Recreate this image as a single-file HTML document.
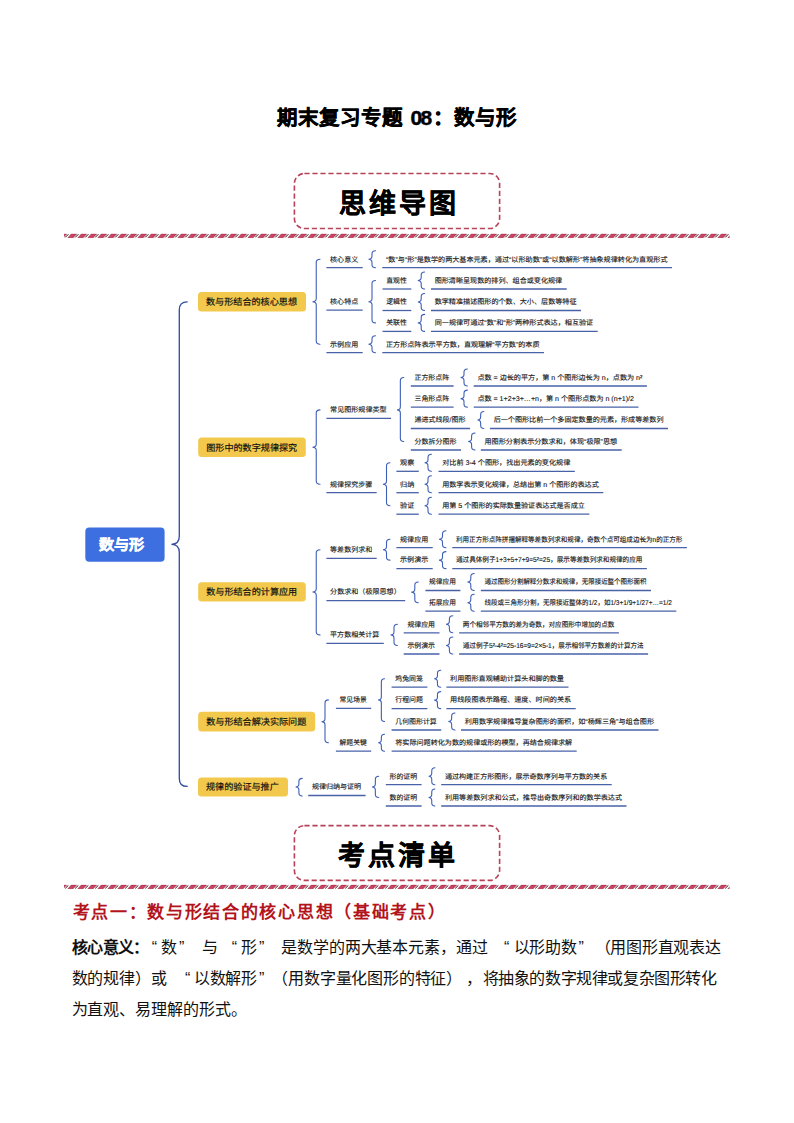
<!DOCTYPE html>
<html lang="zh-CN"><head><meta charset="utf-8">
<style>
html,body{margin:0;padding:0;background:#fff;}
body{text-spacing-trim:space-all;width:794px;height:1123px;position:relative;overflow:hidden;font-family:"Liberation Sans",sans-serif;color:#111;}
.abs{position:absolute;white-space:nowrap;}
.tt{top:105.3px;font-size:20.5px;font-weight:bold;-webkit-text-stroke:0.45px #000;color:#000;letter-spacing:1.1px;line-height:26px;}
.bigt{font-family:"Liberation Serif",serif;font-weight:bold;-webkit-text-stroke:0.35px #000;color:#000;font-size:27px;letter-spacing:3.1px;}
.h1{top:898px;font-family:"Liberation Serif",serif;font-weight:bold;font-size:17px;color:#b3141c;}
.bs{position:absolute;white-space:nowrap;font-family:"Liberation Sans",sans-serif;font-size:16px;line-height:23px;color:#111;}
.bl{position:absolute;left:73px;font-family:"Liberation Serif",serif;font-size:16px;text-align:justify;text-align-last:justify;white-space:nowrap;}
svg text{text-rendering:geometricPrecision;font-family:"Liberation Sans",sans-serif;fill:#111;stroke:#111;stroke-width:0.12px;}
svg text.bt{stroke-width:0.18px;}
</style></head><body>
<svg class="abs" style="left:0;top:0" width="794" height="1123" viewBox="0 0 794 1123">
<defs>
<pattern id="stp" patternUnits="userSpaceOnUse" x="64" y="0" width="10.1" height="3.8">
<polygon points="2.3,3.8 8.6,3.8 10.1,0 3.8,0" fill="#c63d5b"/>
<line x1="0.3" y1="3.8" x2="1.8" y2="0" stroke="#4a2228" stroke-width="0.7" stroke-dasharray="0.7 0.5"/>
</pattern>
</defs>
<rect x="294.4" y="173.5" width="205.20000000000005" height="55.0" rx="10" fill="none" stroke="#b8425a" stroke-width="1.6" stroke-dasharray="5.2 2.8"/>
<clipPath id="cp233"><rect x="64" y="233.4" width="665.5" height="4.8"/></clipPath><g clip-path="url(#cp233)"><polygon points="57.90,237.70 63.20,237.70 66.60,233.90 61.30,233.90" fill="#cc4262" stroke="#8e1f3a" stroke-width="0.5"/><line x1="55.20" y1="237.40" x2="58.40" y2="234.20" stroke="#2a0a10" stroke-width="1.0"/><polygon points="67.90,237.70 73.20,237.70 76.60,233.90 71.30,233.90" fill="#cc4262" stroke="#8e1f3a" stroke-width="0.5"/><line x1="65.20" y1="237.40" x2="68.40" y2="234.20" stroke="#2a0a10" stroke-width="1.0"/><polygon points="77.90,237.70 83.20,237.70 86.60,233.90 81.30,233.90" fill="#cc4262" stroke="#8e1f3a" stroke-width="0.5"/><line x1="75.20" y1="237.40" x2="78.40" y2="234.20" stroke="#2a0a10" stroke-width="1.0"/><polygon points="87.90,237.70 93.20,237.70 96.60,233.90 91.30,233.90" fill="#cc4262" stroke="#8e1f3a" stroke-width="0.5"/><line x1="85.20" y1="237.40" x2="88.40" y2="234.20" stroke="#2a0a10" stroke-width="1.0"/><polygon points="97.90,237.70 103.20,237.70 106.60,233.90 101.30,233.90" fill="#cc4262" stroke="#8e1f3a" stroke-width="0.5"/><line x1="95.20" y1="237.40" x2="98.40" y2="234.20" stroke="#2a0a10" stroke-width="1.0"/><polygon points="107.90,237.70 113.20,237.70 116.60,233.90 111.30,233.90" fill="#cc4262" stroke="#8e1f3a" stroke-width="0.5"/><line x1="105.20" y1="237.40" x2="108.40" y2="234.20" stroke="#2a0a10" stroke-width="1.0"/><polygon points="117.90,237.70 123.20,237.70 126.60,233.90 121.30,233.90" fill="#cc4262" stroke="#8e1f3a" stroke-width="0.5"/><line x1="115.20" y1="237.40" x2="118.40" y2="234.20" stroke="#2a0a10" stroke-width="1.0"/><polygon points="127.90,237.70 133.20,237.70 136.60,233.90 131.30,233.90" fill="#cc4262" stroke="#8e1f3a" stroke-width="0.5"/><line x1="125.20" y1="237.40" x2="128.40" y2="234.20" stroke="#2a0a10" stroke-width="1.0"/><polygon points="137.90,237.70 143.20,237.70 146.60,233.90 141.30,233.90" fill="#cc4262" stroke="#8e1f3a" stroke-width="0.5"/><line x1="135.20" y1="237.40" x2="138.40" y2="234.20" stroke="#2a0a10" stroke-width="1.0"/><polygon points="147.90,237.70 153.20,237.70 156.60,233.90 151.30,233.90" fill="#cc4262" stroke="#8e1f3a" stroke-width="0.5"/><line x1="145.20" y1="237.40" x2="148.40" y2="234.20" stroke="#2a0a10" stroke-width="1.0"/><polygon points="157.90,237.70 163.20,237.70 166.60,233.90 161.30,233.90" fill="#cc4262" stroke="#8e1f3a" stroke-width="0.5"/><line x1="155.20" y1="237.40" x2="158.40" y2="234.20" stroke="#2a0a10" stroke-width="1.0"/><polygon points="167.90,237.70 173.20,237.70 176.60,233.90 171.30,233.90" fill="#cc4262" stroke="#8e1f3a" stroke-width="0.5"/><line x1="165.20" y1="237.40" x2="168.40" y2="234.20" stroke="#2a0a10" stroke-width="1.0"/><polygon points="177.90,237.70 183.20,237.70 186.60,233.90 181.30,233.90" fill="#cc4262" stroke="#8e1f3a" stroke-width="0.5"/><line x1="175.20" y1="237.40" x2="178.40" y2="234.20" stroke="#2a0a10" stroke-width="1.0"/><polygon points="187.90,237.70 193.20,237.70 196.60,233.90 191.30,233.90" fill="#cc4262" stroke="#8e1f3a" stroke-width="0.5"/><line x1="185.20" y1="237.40" x2="188.40" y2="234.20" stroke="#2a0a10" stroke-width="1.0"/><polygon points="197.90,237.70 203.20,237.70 206.60,233.90 201.30,233.90" fill="#cc4262" stroke="#8e1f3a" stroke-width="0.5"/><line x1="195.20" y1="237.40" x2="198.40" y2="234.20" stroke="#2a0a10" stroke-width="1.0"/><polygon points="207.90,237.70 213.20,237.70 216.60,233.90 211.30,233.90" fill="#cc4262" stroke="#8e1f3a" stroke-width="0.5"/><line x1="205.20" y1="237.40" x2="208.40" y2="234.20" stroke="#2a0a10" stroke-width="1.0"/><polygon points="217.90,237.70 223.20,237.70 226.60,233.90 221.30,233.90" fill="#cc4262" stroke="#8e1f3a" stroke-width="0.5"/><line x1="215.20" y1="237.40" x2="218.40" y2="234.20" stroke="#2a0a10" stroke-width="1.0"/><polygon points="227.90,237.70 233.20,237.70 236.60,233.90 231.30,233.90" fill="#cc4262" stroke="#8e1f3a" stroke-width="0.5"/><line x1="225.20" y1="237.40" x2="228.40" y2="234.20" stroke="#2a0a10" stroke-width="1.0"/><polygon points="237.90,237.70 243.20,237.70 246.60,233.90 241.30,233.90" fill="#cc4262" stroke="#8e1f3a" stroke-width="0.5"/><line x1="235.20" y1="237.40" x2="238.40" y2="234.20" stroke="#2a0a10" stroke-width="1.0"/><polygon points="247.90,237.70 253.20,237.70 256.60,233.90 251.30,233.90" fill="#cc4262" stroke="#8e1f3a" stroke-width="0.5"/><line x1="245.20" y1="237.40" x2="248.40" y2="234.20" stroke="#2a0a10" stroke-width="1.0"/><polygon points="257.90,237.70 263.20,237.70 266.60,233.90 261.30,233.90" fill="#cc4262" stroke="#8e1f3a" stroke-width="0.5"/><line x1="255.20" y1="237.40" x2="258.40" y2="234.20" stroke="#2a0a10" stroke-width="1.0"/><polygon points="267.90,237.70 273.20,237.70 276.60,233.90 271.30,233.90" fill="#cc4262" stroke="#8e1f3a" stroke-width="0.5"/><line x1="265.20" y1="237.40" x2="268.40" y2="234.20" stroke="#2a0a10" stroke-width="1.0"/><polygon points="277.90,237.70 283.20,237.70 286.60,233.90 281.30,233.90" fill="#cc4262" stroke="#8e1f3a" stroke-width="0.5"/><line x1="275.20" y1="237.40" x2="278.40" y2="234.20" stroke="#2a0a10" stroke-width="1.0"/><polygon points="287.90,237.70 293.20,237.70 296.60,233.90 291.30,233.90" fill="#cc4262" stroke="#8e1f3a" stroke-width="0.5"/><line x1="285.20" y1="237.40" x2="288.40" y2="234.20" stroke="#2a0a10" stroke-width="1.0"/><polygon points="297.90,237.70 303.20,237.70 306.60,233.90 301.30,233.90" fill="#cc4262" stroke="#8e1f3a" stroke-width="0.5"/><line x1="295.20" y1="237.40" x2="298.40" y2="234.20" stroke="#2a0a10" stroke-width="1.0"/><polygon points="307.90,237.70 313.20,237.70 316.60,233.90 311.30,233.90" fill="#cc4262" stroke="#8e1f3a" stroke-width="0.5"/><line x1="305.20" y1="237.40" x2="308.40" y2="234.20" stroke="#2a0a10" stroke-width="1.0"/><polygon points="317.90,237.70 323.20,237.70 326.60,233.90 321.30,233.90" fill="#cc4262" stroke="#8e1f3a" stroke-width="0.5"/><line x1="315.20" y1="237.40" x2="318.40" y2="234.20" stroke="#2a0a10" stroke-width="1.0"/><polygon points="327.90,237.70 333.20,237.70 336.60,233.90 331.30,233.90" fill="#cc4262" stroke="#8e1f3a" stroke-width="0.5"/><line x1="325.20" y1="237.40" x2="328.40" y2="234.20" stroke="#2a0a10" stroke-width="1.0"/><polygon points="337.90,237.70 343.20,237.70 346.60,233.90 341.30,233.90" fill="#cc4262" stroke="#8e1f3a" stroke-width="0.5"/><line x1="335.20" y1="237.40" x2="338.40" y2="234.20" stroke="#2a0a10" stroke-width="1.0"/><polygon points="347.90,237.70 353.20,237.70 356.60,233.90 351.30,233.90" fill="#cc4262" stroke="#8e1f3a" stroke-width="0.5"/><line x1="345.20" y1="237.40" x2="348.40" y2="234.20" stroke="#2a0a10" stroke-width="1.0"/><polygon points="357.90,237.70 363.20,237.70 366.60,233.90 361.30,233.90" fill="#cc4262" stroke="#8e1f3a" stroke-width="0.5"/><line x1="355.20" y1="237.40" x2="358.40" y2="234.20" stroke="#2a0a10" stroke-width="1.0"/><polygon points="367.90,237.70 373.20,237.70 376.60,233.90 371.30,233.90" fill="#cc4262" stroke="#8e1f3a" stroke-width="0.5"/><line x1="365.20" y1="237.40" x2="368.40" y2="234.20" stroke="#2a0a10" stroke-width="1.0"/><polygon points="377.90,237.70 383.20,237.70 386.60,233.90 381.30,233.90" fill="#cc4262" stroke="#8e1f3a" stroke-width="0.5"/><line x1="375.20" y1="237.40" x2="378.40" y2="234.20" stroke="#2a0a10" stroke-width="1.0"/><polygon points="387.90,237.70 393.20,237.70 396.60,233.90 391.30,233.90" fill="#cc4262" stroke="#8e1f3a" stroke-width="0.5"/><line x1="385.20" y1="237.40" x2="388.40" y2="234.20" stroke="#2a0a10" stroke-width="1.0"/><polygon points="397.90,237.70 403.20,237.70 406.60,233.90 401.30,233.90" fill="#cc4262" stroke="#8e1f3a" stroke-width="0.5"/><line x1="395.20" y1="237.40" x2="398.40" y2="234.20" stroke="#2a0a10" stroke-width="1.0"/><polygon points="407.90,237.70 413.20,237.70 416.60,233.90 411.30,233.90" fill="#cc4262" stroke="#8e1f3a" stroke-width="0.5"/><line x1="405.20" y1="237.40" x2="408.40" y2="234.20" stroke="#2a0a10" stroke-width="1.0"/><polygon points="417.90,237.70 423.20,237.70 426.60,233.90 421.30,233.90" fill="#cc4262" stroke="#8e1f3a" stroke-width="0.5"/><line x1="415.20" y1="237.40" x2="418.40" y2="234.20" stroke="#2a0a10" stroke-width="1.0"/><polygon points="427.90,237.70 433.20,237.70 436.60,233.90 431.30,233.90" fill="#cc4262" stroke="#8e1f3a" stroke-width="0.5"/><line x1="425.20" y1="237.40" x2="428.40" y2="234.20" stroke="#2a0a10" stroke-width="1.0"/><polygon points="437.90,237.70 443.20,237.70 446.60,233.90 441.30,233.90" fill="#cc4262" stroke="#8e1f3a" stroke-width="0.5"/><line x1="435.20" y1="237.40" x2="438.40" y2="234.20" stroke="#2a0a10" stroke-width="1.0"/><polygon points="447.90,237.70 453.20,237.70 456.60,233.90 451.30,233.90" fill="#cc4262" stroke="#8e1f3a" stroke-width="0.5"/><line x1="445.20" y1="237.40" x2="448.40" y2="234.20" stroke="#2a0a10" stroke-width="1.0"/><polygon points="457.90,237.70 463.20,237.70 466.60,233.90 461.30,233.90" fill="#cc4262" stroke="#8e1f3a" stroke-width="0.5"/><line x1="455.20" y1="237.40" x2="458.40" y2="234.20" stroke="#2a0a10" stroke-width="1.0"/><polygon points="467.90,237.70 473.20,237.70 476.60,233.90 471.30,233.90" fill="#cc4262" stroke="#8e1f3a" stroke-width="0.5"/><line x1="465.20" y1="237.40" x2="468.40" y2="234.20" stroke="#2a0a10" stroke-width="1.0"/><polygon points="477.90,237.70 483.20,237.70 486.60,233.90 481.30,233.90" fill="#cc4262" stroke="#8e1f3a" stroke-width="0.5"/><line x1="475.20" y1="237.40" x2="478.40" y2="234.20" stroke="#2a0a10" stroke-width="1.0"/><polygon points="487.90,237.70 493.20,237.70 496.60,233.90 491.30,233.90" fill="#cc4262" stroke="#8e1f3a" stroke-width="0.5"/><line x1="485.20" y1="237.40" x2="488.40" y2="234.20" stroke="#2a0a10" stroke-width="1.0"/><polygon points="497.90,237.70 503.20,237.70 506.60,233.90 501.30,233.90" fill="#cc4262" stroke="#8e1f3a" stroke-width="0.5"/><line x1="495.20" y1="237.40" x2="498.40" y2="234.20" stroke="#2a0a10" stroke-width="1.0"/><polygon points="507.90,237.70 513.20,237.70 516.60,233.90 511.30,233.90" fill="#cc4262" stroke="#8e1f3a" stroke-width="0.5"/><line x1="505.20" y1="237.40" x2="508.40" y2="234.20" stroke="#2a0a10" stroke-width="1.0"/><polygon points="517.90,237.70 523.20,237.70 526.60,233.90 521.30,233.90" fill="#cc4262" stroke="#8e1f3a" stroke-width="0.5"/><line x1="515.20" y1="237.40" x2="518.40" y2="234.20" stroke="#2a0a10" stroke-width="1.0"/><polygon points="527.90,237.70 533.20,237.70 536.60,233.90 531.30,233.90" fill="#cc4262" stroke="#8e1f3a" stroke-width="0.5"/><line x1="525.20" y1="237.40" x2="528.40" y2="234.20" stroke="#2a0a10" stroke-width="1.0"/><polygon points="537.90,237.70 543.20,237.70 546.60,233.90 541.30,233.90" fill="#cc4262" stroke="#8e1f3a" stroke-width="0.5"/><line x1="535.20" y1="237.40" x2="538.40" y2="234.20" stroke="#2a0a10" stroke-width="1.0"/><polygon points="547.90,237.70 553.20,237.70 556.60,233.90 551.30,233.90" fill="#cc4262" stroke="#8e1f3a" stroke-width="0.5"/><line x1="545.20" y1="237.40" x2="548.40" y2="234.20" stroke="#2a0a10" stroke-width="1.0"/><polygon points="557.90,237.70 563.20,237.70 566.60,233.90 561.30,233.90" fill="#cc4262" stroke="#8e1f3a" stroke-width="0.5"/><line x1="555.20" y1="237.40" x2="558.40" y2="234.20" stroke="#2a0a10" stroke-width="1.0"/><polygon points="567.90,237.70 573.20,237.70 576.60,233.90 571.30,233.90" fill="#cc4262" stroke="#8e1f3a" stroke-width="0.5"/><line x1="565.20" y1="237.40" x2="568.40" y2="234.20" stroke="#2a0a10" stroke-width="1.0"/><polygon points="577.90,237.70 583.20,237.70 586.60,233.90 581.30,233.90" fill="#cc4262" stroke="#8e1f3a" stroke-width="0.5"/><line x1="575.20" y1="237.40" x2="578.40" y2="234.20" stroke="#2a0a10" stroke-width="1.0"/><polygon points="587.90,237.70 593.20,237.70 596.60,233.90 591.30,233.90" fill="#cc4262" stroke="#8e1f3a" stroke-width="0.5"/><line x1="585.20" y1="237.40" x2="588.40" y2="234.20" stroke="#2a0a10" stroke-width="1.0"/><polygon points="597.90,237.70 603.20,237.70 606.60,233.90 601.30,233.90" fill="#cc4262" stroke="#8e1f3a" stroke-width="0.5"/><line x1="595.20" y1="237.40" x2="598.40" y2="234.20" stroke="#2a0a10" stroke-width="1.0"/><polygon points="607.90,237.70 613.20,237.70 616.60,233.90 611.30,233.90" fill="#cc4262" stroke="#8e1f3a" stroke-width="0.5"/><line x1="605.20" y1="237.40" x2="608.40" y2="234.20" stroke="#2a0a10" stroke-width="1.0"/><polygon points="617.90,237.70 623.20,237.70 626.60,233.90 621.30,233.90" fill="#cc4262" stroke="#8e1f3a" stroke-width="0.5"/><line x1="615.20" y1="237.40" x2="618.40" y2="234.20" stroke="#2a0a10" stroke-width="1.0"/><polygon points="627.90,237.70 633.20,237.70 636.60,233.90 631.30,233.90" fill="#cc4262" stroke="#8e1f3a" stroke-width="0.5"/><line x1="625.20" y1="237.40" x2="628.40" y2="234.20" stroke="#2a0a10" stroke-width="1.0"/><polygon points="637.90,237.70 643.20,237.70 646.60,233.90 641.30,233.90" fill="#cc4262" stroke="#8e1f3a" stroke-width="0.5"/><line x1="635.20" y1="237.40" x2="638.40" y2="234.20" stroke="#2a0a10" stroke-width="1.0"/><polygon points="647.90,237.70 653.20,237.70 656.60,233.90 651.30,233.90" fill="#cc4262" stroke="#8e1f3a" stroke-width="0.5"/><line x1="645.20" y1="237.40" x2="648.40" y2="234.20" stroke="#2a0a10" stroke-width="1.0"/><polygon points="657.90,237.70 663.20,237.70 666.60,233.90 661.30,233.90" fill="#cc4262" stroke="#8e1f3a" stroke-width="0.5"/><line x1="655.20" y1="237.40" x2="658.40" y2="234.20" stroke="#2a0a10" stroke-width="1.0"/><polygon points="667.90,237.70 673.20,237.70 676.60,233.90 671.30,233.90" fill="#cc4262" stroke="#8e1f3a" stroke-width="0.5"/><line x1="665.20" y1="237.40" x2="668.40" y2="234.20" stroke="#2a0a10" stroke-width="1.0"/><polygon points="677.90,237.70 683.20,237.70 686.60,233.90 681.30,233.90" fill="#cc4262" stroke="#8e1f3a" stroke-width="0.5"/><line x1="675.20" y1="237.40" x2="678.40" y2="234.20" stroke="#2a0a10" stroke-width="1.0"/><polygon points="687.90,237.70 693.20,237.70 696.60,233.90 691.30,233.90" fill="#cc4262" stroke="#8e1f3a" stroke-width="0.5"/><line x1="685.20" y1="237.40" x2="688.40" y2="234.20" stroke="#2a0a10" stroke-width="1.0"/><polygon points="697.90,237.70 703.20,237.70 706.60,233.90 701.30,233.90" fill="#cc4262" stroke="#8e1f3a" stroke-width="0.5"/><line x1="695.20" y1="237.40" x2="698.40" y2="234.20" stroke="#2a0a10" stroke-width="1.0"/><polygon points="707.90,237.70 713.20,237.70 716.60,233.90 711.30,233.90" fill="#cc4262" stroke="#8e1f3a" stroke-width="0.5"/><line x1="705.20" y1="237.40" x2="708.40" y2="234.20" stroke="#2a0a10" stroke-width="1.0"/><polygon points="717.90,237.70 723.20,237.70 726.60,233.90 721.30,233.90" fill="#cc4262" stroke="#8e1f3a" stroke-width="0.5"/><line x1="715.20" y1="237.40" x2="718.40" y2="234.20" stroke="#2a0a10" stroke-width="1.0"/><polygon points="727.90,237.70 733.20,237.70 736.60,233.90 731.30,233.90" fill="#cc4262" stroke="#8e1f3a" stroke-width="0.5"/><line x1="725.20" y1="237.40" x2="728.40" y2="234.20" stroke="#2a0a10" stroke-width="1.0"/><polygon points="737.90,237.70 743.20,237.70 746.60,233.90 741.30,233.90" fill="#cc4262" stroke="#8e1f3a" stroke-width="0.5"/><line x1="735.20" y1="237.40" x2="738.40" y2="234.20" stroke="#2a0a10" stroke-width="1.0"/></g>
<rect x="294.4" y="825.6" width="205.20000000000005" height="54.799999999999955" rx="10" fill="none" stroke="#b8425a" stroke-width="1.6" stroke-dasharray="5.2 2.8"/>
<clipPath id="cp885"><rect x="64" y="884.5" width="665.5" height="4.7"/></clipPath><g clip-path="url(#cp885)"><polygon points="57.90,888.70 63.20,888.70 66.60,885.00 61.30,885.00" fill="#cc4262" stroke="#8e1f3a" stroke-width="0.5"/><line x1="55.20" y1="888.40" x2="58.40" y2="885.30" stroke="#2a0a10" stroke-width="1.0"/><polygon points="67.90,888.70 73.20,888.70 76.60,885.00 71.30,885.00" fill="#cc4262" stroke="#8e1f3a" stroke-width="0.5"/><line x1="65.20" y1="888.40" x2="68.40" y2="885.30" stroke="#2a0a10" stroke-width="1.0"/><polygon points="77.90,888.70 83.20,888.70 86.60,885.00 81.30,885.00" fill="#cc4262" stroke="#8e1f3a" stroke-width="0.5"/><line x1="75.20" y1="888.40" x2="78.40" y2="885.30" stroke="#2a0a10" stroke-width="1.0"/><polygon points="87.90,888.70 93.20,888.70 96.60,885.00 91.30,885.00" fill="#cc4262" stroke="#8e1f3a" stroke-width="0.5"/><line x1="85.20" y1="888.40" x2="88.40" y2="885.30" stroke="#2a0a10" stroke-width="1.0"/><polygon points="97.90,888.70 103.20,888.70 106.60,885.00 101.30,885.00" fill="#cc4262" stroke="#8e1f3a" stroke-width="0.5"/><line x1="95.20" y1="888.40" x2="98.40" y2="885.30" stroke="#2a0a10" stroke-width="1.0"/><polygon points="107.90,888.70 113.20,888.70 116.60,885.00 111.30,885.00" fill="#cc4262" stroke="#8e1f3a" stroke-width="0.5"/><line x1="105.20" y1="888.40" x2="108.40" y2="885.30" stroke="#2a0a10" stroke-width="1.0"/><polygon points="117.90,888.70 123.20,888.70 126.60,885.00 121.30,885.00" fill="#cc4262" stroke="#8e1f3a" stroke-width="0.5"/><line x1="115.20" y1="888.40" x2="118.40" y2="885.30" stroke="#2a0a10" stroke-width="1.0"/><polygon points="127.90,888.70 133.20,888.70 136.60,885.00 131.30,885.00" fill="#cc4262" stroke="#8e1f3a" stroke-width="0.5"/><line x1="125.20" y1="888.40" x2="128.40" y2="885.30" stroke="#2a0a10" stroke-width="1.0"/><polygon points="137.90,888.70 143.20,888.70 146.60,885.00 141.30,885.00" fill="#cc4262" stroke="#8e1f3a" stroke-width="0.5"/><line x1="135.20" y1="888.40" x2="138.40" y2="885.30" stroke="#2a0a10" stroke-width="1.0"/><polygon points="147.90,888.70 153.20,888.70 156.60,885.00 151.30,885.00" fill="#cc4262" stroke="#8e1f3a" stroke-width="0.5"/><line x1="145.20" y1="888.40" x2="148.40" y2="885.30" stroke="#2a0a10" stroke-width="1.0"/><polygon points="157.90,888.70 163.20,888.70 166.60,885.00 161.30,885.00" fill="#cc4262" stroke="#8e1f3a" stroke-width="0.5"/><line x1="155.20" y1="888.40" x2="158.40" y2="885.30" stroke="#2a0a10" stroke-width="1.0"/><polygon points="167.90,888.70 173.20,888.70 176.60,885.00 171.30,885.00" fill="#cc4262" stroke="#8e1f3a" stroke-width="0.5"/><line x1="165.20" y1="888.40" x2="168.40" y2="885.30" stroke="#2a0a10" stroke-width="1.0"/><polygon points="177.90,888.70 183.20,888.70 186.60,885.00 181.30,885.00" fill="#cc4262" stroke="#8e1f3a" stroke-width="0.5"/><line x1="175.20" y1="888.40" x2="178.40" y2="885.30" stroke="#2a0a10" stroke-width="1.0"/><polygon points="187.90,888.70 193.20,888.70 196.60,885.00 191.30,885.00" fill="#cc4262" stroke="#8e1f3a" stroke-width="0.5"/><line x1="185.20" y1="888.40" x2="188.40" y2="885.30" stroke="#2a0a10" stroke-width="1.0"/><polygon points="197.90,888.70 203.20,888.70 206.60,885.00 201.30,885.00" fill="#cc4262" stroke="#8e1f3a" stroke-width="0.5"/><line x1="195.20" y1="888.40" x2="198.40" y2="885.30" stroke="#2a0a10" stroke-width="1.0"/><polygon points="207.90,888.70 213.20,888.70 216.60,885.00 211.30,885.00" fill="#cc4262" stroke="#8e1f3a" stroke-width="0.5"/><line x1="205.20" y1="888.40" x2="208.40" y2="885.30" stroke="#2a0a10" stroke-width="1.0"/><polygon points="217.90,888.70 223.20,888.70 226.60,885.00 221.30,885.00" fill="#cc4262" stroke="#8e1f3a" stroke-width="0.5"/><line x1="215.20" y1="888.40" x2="218.40" y2="885.30" stroke="#2a0a10" stroke-width="1.0"/><polygon points="227.90,888.70 233.20,888.70 236.60,885.00 231.30,885.00" fill="#cc4262" stroke="#8e1f3a" stroke-width="0.5"/><line x1="225.20" y1="888.40" x2="228.40" y2="885.30" stroke="#2a0a10" stroke-width="1.0"/><polygon points="237.90,888.70 243.20,888.70 246.60,885.00 241.30,885.00" fill="#cc4262" stroke="#8e1f3a" stroke-width="0.5"/><line x1="235.20" y1="888.40" x2="238.40" y2="885.30" stroke="#2a0a10" stroke-width="1.0"/><polygon points="247.90,888.70 253.20,888.70 256.60,885.00 251.30,885.00" fill="#cc4262" stroke="#8e1f3a" stroke-width="0.5"/><line x1="245.20" y1="888.40" x2="248.40" y2="885.30" stroke="#2a0a10" stroke-width="1.0"/><polygon points="257.90,888.70 263.20,888.70 266.60,885.00 261.30,885.00" fill="#cc4262" stroke="#8e1f3a" stroke-width="0.5"/><line x1="255.20" y1="888.40" x2="258.40" y2="885.30" stroke="#2a0a10" stroke-width="1.0"/><polygon points="267.90,888.70 273.20,888.70 276.60,885.00 271.30,885.00" fill="#cc4262" stroke="#8e1f3a" stroke-width="0.5"/><line x1="265.20" y1="888.40" x2="268.40" y2="885.30" stroke="#2a0a10" stroke-width="1.0"/><polygon points="277.90,888.70 283.20,888.70 286.60,885.00 281.30,885.00" fill="#cc4262" stroke="#8e1f3a" stroke-width="0.5"/><line x1="275.20" y1="888.40" x2="278.40" y2="885.30" stroke="#2a0a10" stroke-width="1.0"/><polygon points="287.90,888.70 293.20,888.70 296.60,885.00 291.30,885.00" fill="#cc4262" stroke="#8e1f3a" stroke-width="0.5"/><line x1="285.20" y1="888.40" x2="288.40" y2="885.30" stroke="#2a0a10" stroke-width="1.0"/><polygon points="297.90,888.70 303.20,888.70 306.60,885.00 301.30,885.00" fill="#cc4262" stroke="#8e1f3a" stroke-width="0.5"/><line x1="295.20" y1="888.40" x2="298.40" y2="885.30" stroke="#2a0a10" stroke-width="1.0"/><polygon points="307.90,888.70 313.20,888.70 316.60,885.00 311.30,885.00" fill="#cc4262" stroke="#8e1f3a" stroke-width="0.5"/><line x1="305.20" y1="888.40" x2="308.40" y2="885.30" stroke="#2a0a10" stroke-width="1.0"/><polygon points="317.90,888.70 323.20,888.70 326.60,885.00 321.30,885.00" fill="#cc4262" stroke="#8e1f3a" stroke-width="0.5"/><line x1="315.20" y1="888.40" x2="318.40" y2="885.30" stroke="#2a0a10" stroke-width="1.0"/><polygon points="327.90,888.70 333.20,888.70 336.60,885.00 331.30,885.00" fill="#cc4262" stroke="#8e1f3a" stroke-width="0.5"/><line x1="325.20" y1="888.40" x2="328.40" y2="885.30" stroke="#2a0a10" stroke-width="1.0"/><polygon points="337.90,888.70 343.20,888.70 346.60,885.00 341.30,885.00" fill="#cc4262" stroke="#8e1f3a" stroke-width="0.5"/><line x1="335.20" y1="888.40" x2="338.40" y2="885.30" stroke="#2a0a10" stroke-width="1.0"/><polygon points="347.90,888.70 353.20,888.70 356.60,885.00 351.30,885.00" fill="#cc4262" stroke="#8e1f3a" stroke-width="0.5"/><line x1="345.20" y1="888.40" x2="348.40" y2="885.30" stroke="#2a0a10" stroke-width="1.0"/><polygon points="357.90,888.70 363.20,888.70 366.60,885.00 361.30,885.00" fill="#cc4262" stroke="#8e1f3a" stroke-width="0.5"/><line x1="355.20" y1="888.40" x2="358.40" y2="885.30" stroke="#2a0a10" stroke-width="1.0"/><polygon points="367.90,888.70 373.20,888.70 376.60,885.00 371.30,885.00" fill="#cc4262" stroke="#8e1f3a" stroke-width="0.5"/><line x1="365.20" y1="888.40" x2="368.40" y2="885.30" stroke="#2a0a10" stroke-width="1.0"/><polygon points="377.90,888.70 383.20,888.70 386.60,885.00 381.30,885.00" fill="#cc4262" stroke="#8e1f3a" stroke-width="0.5"/><line x1="375.20" y1="888.40" x2="378.40" y2="885.30" stroke="#2a0a10" stroke-width="1.0"/><polygon points="387.90,888.70 393.20,888.70 396.60,885.00 391.30,885.00" fill="#cc4262" stroke="#8e1f3a" stroke-width="0.5"/><line x1="385.20" y1="888.40" x2="388.40" y2="885.30" stroke="#2a0a10" stroke-width="1.0"/><polygon points="397.90,888.70 403.20,888.70 406.60,885.00 401.30,885.00" fill="#cc4262" stroke="#8e1f3a" stroke-width="0.5"/><line x1="395.20" y1="888.40" x2="398.40" y2="885.30" stroke="#2a0a10" stroke-width="1.0"/><polygon points="407.90,888.70 413.20,888.70 416.60,885.00 411.30,885.00" fill="#cc4262" stroke="#8e1f3a" stroke-width="0.5"/><line x1="405.20" y1="888.40" x2="408.40" y2="885.30" stroke="#2a0a10" stroke-width="1.0"/><polygon points="417.90,888.70 423.20,888.70 426.60,885.00 421.30,885.00" fill="#cc4262" stroke="#8e1f3a" stroke-width="0.5"/><line x1="415.20" y1="888.40" x2="418.40" y2="885.30" stroke="#2a0a10" stroke-width="1.0"/><polygon points="427.90,888.70 433.20,888.70 436.60,885.00 431.30,885.00" fill="#cc4262" stroke="#8e1f3a" stroke-width="0.5"/><line x1="425.20" y1="888.40" x2="428.40" y2="885.30" stroke="#2a0a10" stroke-width="1.0"/><polygon points="437.90,888.70 443.20,888.70 446.60,885.00 441.30,885.00" fill="#cc4262" stroke="#8e1f3a" stroke-width="0.5"/><line x1="435.20" y1="888.40" x2="438.40" y2="885.30" stroke="#2a0a10" stroke-width="1.0"/><polygon points="447.90,888.70 453.20,888.70 456.60,885.00 451.30,885.00" fill="#cc4262" stroke="#8e1f3a" stroke-width="0.5"/><line x1="445.20" y1="888.40" x2="448.40" y2="885.30" stroke="#2a0a10" stroke-width="1.0"/><polygon points="457.90,888.70 463.20,888.70 466.60,885.00 461.30,885.00" fill="#cc4262" stroke="#8e1f3a" stroke-width="0.5"/><line x1="455.20" y1="888.40" x2="458.40" y2="885.30" stroke="#2a0a10" stroke-width="1.0"/><polygon points="467.90,888.70 473.20,888.70 476.60,885.00 471.30,885.00" fill="#cc4262" stroke="#8e1f3a" stroke-width="0.5"/><line x1="465.20" y1="888.40" x2="468.40" y2="885.30" stroke="#2a0a10" stroke-width="1.0"/><polygon points="477.90,888.70 483.20,888.70 486.60,885.00 481.30,885.00" fill="#cc4262" stroke="#8e1f3a" stroke-width="0.5"/><line x1="475.20" y1="888.40" x2="478.40" y2="885.30" stroke="#2a0a10" stroke-width="1.0"/><polygon points="487.90,888.70 493.20,888.70 496.60,885.00 491.30,885.00" fill="#cc4262" stroke="#8e1f3a" stroke-width="0.5"/><line x1="485.20" y1="888.40" x2="488.40" y2="885.30" stroke="#2a0a10" stroke-width="1.0"/><polygon points="497.90,888.70 503.20,888.70 506.60,885.00 501.30,885.00" fill="#cc4262" stroke="#8e1f3a" stroke-width="0.5"/><line x1="495.20" y1="888.40" x2="498.40" y2="885.30" stroke="#2a0a10" stroke-width="1.0"/><polygon points="507.90,888.70 513.20,888.70 516.60,885.00 511.30,885.00" fill="#cc4262" stroke="#8e1f3a" stroke-width="0.5"/><line x1="505.20" y1="888.40" x2="508.40" y2="885.30" stroke="#2a0a10" stroke-width="1.0"/><polygon points="517.90,888.70 523.20,888.70 526.60,885.00 521.30,885.00" fill="#cc4262" stroke="#8e1f3a" stroke-width="0.5"/><line x1="515.20" y1="888.40" x2="518.40" y2="885.30" stroke="#2a0a10" stroke-width="1.0"/><polygon points="527.90,888.70 533.20,888.70 536.60,885.00 531.30,885.00" fill="#cc4262" stroke="#8e1f3a" stroke-width="0.5"/><line x1="525.20" y1="888.40" x2="528.40" y2="885.30" stroke="#2a0a10" stroke-width="1.0"/><polygon points="537.90,888.70 543.20,888.70 546.60,885.00 541.30,885.00" fill="#cc4262" stroke="#8e1f3a" stroke-width="0.5"/><line x1="535.20" y1="888.40" x2="538.40" y2="885.30" stroke="#2a0a10" stroke-width="1.0"/><polygon points="547.90,888.70 553.20,888.70 556.60,885.00 551.30,885.00" fill="#cc4262" stroke="#8e1f3a" stroke-width="0.5"/><line x1="545.20" y1="888.40" x2="548.40" y2="885.30" stroke="#2a0a10" stroke-width="1.0"/><polygon points="557.90,888.70 563.20,888.70 566.60,885.00 561.30,885.00" fill="#cc4262" stroke="#8e1f3a" stroke-width="0.5"/><line x1="555.20" y1="888.40" x2="558.40" y2="885.30" stroke="#2a0a10" stroke-width="1.0"/><polygon points="567.90,888.70 573.20,888.70 576.60,885.00 571.30,885.00" fill="#cc4262" stroke="#8e1f3a" stroke-width="0.5"/><line x1="565.20" y1="888.40" x2="568.40" y2="885.30" stroke="#2a0a10" stroke-width="1.0"/><polygon points="577.90,888.70 583.20,888.70 586.60,885.00 581.30,885.00" fill="#cc4262" stroke="#8e1f3a" stroke-width="0.5"/><line x1="575.20" y1="888.40" x2="578.40" y2="885.30" stroke="#2a0a10" stroke-width="1.0"/><polygon points="587.90,888.70 593.20,888.70 596.60,885.00 591.30,885.00" fill="#cc4262" stroke="#8e1f3a" stroke-width="0.5"/><line x1="585.20" y1="888.40" x2="588.40" y2="885.30" stroke="#2a0a10" stroke-width="1.0"/><polygon points="597.90,888.70 603.20,888.70 606.60,885.00 601.30,885.00" fill="#cc4262" stroke="#8e1f3a" stroke-width="0.5"/><line x1="595.20" y1="888.40" x2="598.40" y2="885.30" stroke="#2a0a10" stroke-width="1.0"/><polygon points="607.90,888.70 613.20,888.70 616.60,885.00 611.30,885.00" fill="#cc4262" stroke="#8e1f3a" stroke-width="0.5"/><line x1="605.20" y1="888.40" x2="608.40" y2="885.30" stroke="#2a0a10" stroke-width="1.0"/><polygon points="617.90,888.70 623.20,888.70 626.60,885.00 621.30,885.00" fill="#cc4262" stroke="#8e1f3a" stroke-width="0.5"/><line x1="615.20" y1="888.40" x2="618.40" y2="885.30" stroke="#2a0a10" stroke-width="1.0"/><polygon points="627.90,888.70 633.20,888.70 636.60,885.00 631.30,885.00" fill="#cc4262" stroke="#8e1f3a" stroke-width="0.5"/><line x1="625.20" y1="888.40" x2="628.40" y2="885.30" stroke="#2a0a10" stroke-width="1.0"/><polygon points="637.90,888.70 643.20,888.70 646.60,885.00 641.30,885.00" fill="#cc4262" stroke="#8e1f3a" stroke-width="0.5"/><line x1="635.20" y1="888.40" x2="638.40" y2="885.30" stroke="#2a0a10" stroke-width="1.0"/><polygon points="647.90,888.70 653.20,888.70 656.60,885.00 651.30,885.00" fill="#cc4262" stroke="#8e1f3a" stroke-width="0.5"/><line x1="645.20" y1="888.40" x2="648.40" y2="885.30" stroke="#2a0a10" stroke-width="1.0"/><polygon points="657.90,888.70 663.20,888.70 666.60,885.00 661.30,885.00" fill="#cc4262" stroke="#8e1f3a" stroke-width="0.5"/><line x1="655.20" y1="888.40" x2="658.40" y2="885.30" stroke="#2a0a10" stroke-width="1.0"/><polygon points="667.90,888.70 673.20,888.70 676.60,885.00 671.30,885.00" fill="#cc4262" stroke="#8e1f3a" stroke-width="0.5"/><line x1="665.20" y1="888.40" x2="668.40" y2="885.30" stroke="#2a0a10" stroke-width="1.0"/><polygon points="677.90,888.70 683.20,888.70 686.60,885.00 681.30,885.00" fill="#cc4262" stroke="#8e1f3a" stroke-width="0.5"/><line x1="675.20" y1="888.40" x2="678.40" y2="885.30" stroke="#2a0a10" stroke-width="1.0"/><polygon points="687.90,888.70 693.20,888.70 696.60,885.00 691.30,885.00" fill="#cc4262" stroke="#8e1f3a" stroke-width="0.5"/><line x1="685.20" y1="888.40" x2="688.40" y2="885.30" stroke="#2a0a10" stroke-width="1.0"/><polygon points="697.90,888.70 703.20,888.70 706.60,885.00 701.30,885.00" fill="#cc4262" stroke="#8e1f3a" stroke-width="0.5"/><line x1="695.20" y1="888.40" x2="698.40" y2="885.30" stroke="#2a0a10" stroke-width="1.0"/><polygon points="707.90,888.70 713.20,888.70 716.60,885.00 711.30,885.00" fill="#cc4262" stroke="#8e1f3a" stroke-width="0.5"/><line x1="705.20" y1="888.40" x2="708.40" y2="885.30" stroke="#2a0a10" stroke-width="1.0"/><polygon points="717.90,888.70 723.20,888.70 726.60,885.00 721.30,885.00" fill="#cc4262" stroke="#8e1f3a" stroke-width="0.5"/><line x1="715.20" y1="888.40" x2="718.40" y2="885.30" stroke="#2a0a10" stroke-width="1.0"/><polygon points="727.90,888.70 733.20,888.70 736.60,885.00 731.30,885.00" fill="#cc4262" stroke="#8e1f3a" stroke-width="0.5"/><line x1="725.20" y1="888.40" x2="728.40" y2="885.30" stroke="#2a0a10" stroke-width="1.0"/><polygon points="737.90,888.70 743.20,888.70 746.60,885.00 741.30,885.00" fill="#cc4262" stroke="#8e1f3a" stroke-width="0.5"/><line x1="735.20" y1="888.40" x2="738.40" y2="885.30" stroke="#2a0a10" stroke-width="1.0"/></g>
<rect x="85.3" y="527.5" width="79.3" height="34.2" rx="4" fill="#3e6fe0"/>
<text x="98.9" y="550.2" font-size="15" font-weight="bold" style="fill:#fff;stroke:#fff;stroke-width:0.4px" textLength="45.3" lengthAdjust="spacingAndGlyphs">数与形</text>
<path d="M187.2,301.8 Q179.3,301.8 179.3,309.8 L179.3,536.3 Q179.3,544.3 171.4,544.3 Q179.3,544.3 179.3,552.3 L179.3,778.4 Q179.3,786.4 187.2,786.4" fill="none" stroke="#33509e" stroke-width="1.35" stroke-linecap="round"/>
<rect x="198" y="292" width="108.0" height="19.5" rx="3.5" fill="#f2c94c"/>
<text class="bt" x="206.0" y="305.1" font-size="9.1" textLength="91.0" lengthAdjust="spacingAndGlyphs">数与形结合的核心思想</text>
<path d="M320,259.2 Q316.25,259.2 316.25,262.4 L316.25,298.6 Q316.25,301.8 312.5,301.8 Q316.25,301.8 316.25,304.9 L316.25,341.0 Q316.25,344.2 320,344.2" fill="none" stroke="#3e5fb8" stroke-width="1.1" stroke-linecap="round"/>
<line x1="326.4" y1="267.7" x2="362.7" y2="267.7" stroke="#4862a8" stroke-width="1.3"/>
<text x="330.1" y="261.5" font-size="7.0" textLength="28.1" lengthAdjust="spacingAndGlyphs">核心意义</text>
<line x1="326.4" y1="310.2" x2="362.7" y2="310.2" stroke="#4862a8" stroke-width="1.3"/>
<text x="330.1" y="304.0" font-size="7.0" textLength="28.1" lengthAdjust="spacingAndGlyphs">核心特点</text>
<line x1="326.4" y1="352.7" x2="362.7" y2="352.7" stroke="#4862a8" stroke-width="1.3"/>
<text x="330.1" y="346.5" font-size="7.0" textLength="28.1" lengthAdjust="spacingAndGlyphs">示例应用</text>
<path d="M375.5,250.7 Q372.0,250.7 372.0,253.9 L372.0,256.0 Q372.0,259.2 368.5,259.2 Q372.0,259.2 372.0,262.4 L372.0,264.5 Q372.0,267.7 375.5,267.7" fill="none" stroke="#3e5fb8" stroke-width="1.1" stroke-linecap="round"/>
<path d="M375.5,280.5 Q372.0,280.5 372.0,283.7 L372.0,298.5 Q372.0,301.7 368.5,301.7 Q372.0,301.7 372.0,304.9 L372.0,319.7 Q372.0,322.9 375.5,322.9" fill="none" stroke="#3e5fb8" stroke-width="1.1" stroke-linecap="round"/>
<path d="M375.5,335.7 Q372.0,335.7 372.0,338.9 L372.0,341.0 Q372.0,344.2 368.5,344.2 Q372.0,344.2 372.0,347.4 L372.0,349.5 Q372.0,352.7 375.5,352.7" fill="none" stroke="#3e5fb8" stroke-width="1.1" stroke-linecap="round"/>
<line x1="382.3" y1="267.7" x2="672" y2="267.7" stroke="#4862a8" stroke-width="1.3"/>
<text x="386.0" y="261.5" font-size="7.0" textLength="281.5" lengthAdjust="spacingAndGlyphs">“数”与“形”是数学的两大基本元素，通过“以形助数”或“以数解形”将抽象规律转化为直观形式</text>
<line x1="382.5" y1="289" x2="411.3" y2="289" stroke="#4862a8" stroke-width="1.3"/>
<text x="386.2" y="282.8" font-size="7.0" textLength="20.6" lengthAdjust="spacingAndGlyphs">直观性</text>
<line x1="382.5" y1="310.5" x2="411.3" y2="310.5" stroke="#4862a8" stroke-width="1.3"/>
<text x="386.2" y="304.3" font-size="7.0" textLength="20.6" lengthAdjust="spacingAndGlyphs">逻辑性</text>
<line x1="382.5" y1="331.4" x2="411.3" y2="331.4" stroke="#4862a8" stroke-width="1.3"/>
<text x="386.2" y="325.2" font-size="7.0" textLength="20.6" lengthAdjust="spacingAndGlyphs">关联性</text>
<line x1="382.3" y1="352.7" x2="544" y2="352.7" stroke="#4862a8" stroke-width="1.3"/>
<text x="386.0" y="346.5" font-size="7.0" textLength="153.5" lengthAdjust="spacingAndGlyphs">正方形点阵表示平方数，直观理解“平方数”的本质</text>
<path d="M424.6,272.0 Q421.20000000000005,272.0 421.20000000000005,275.2 L421.20000000000005,277.3 Q421.20000000000005,280.5 417.8,280.5 Q421.20000000000005,280.5 421.20000000000005,283.7 L421.20000000000005,285.8 Q421.20000000000005,289.0 424.6,289.0" fill="none" stroke="#3e5fb8" stroke-width="1.1" stroke-linecap="round"/>
<path d="M424.6,293.5 Q421.20000000000005,293.5 421.20000000000005,296.7 L421.20000000000005,298.8 Q421.20000000000005,302.0 417.8,302.0 Q421.20000000000005,302.0 421.20000000000005,305.2 L421.20000000000005,307.3 Q421.20000000000005,310.5 424.6,310.5" fill="none" stroke="#3e5fb8" stroke-width="1.1" stroke-linecap="round"/>
<path d="M424.6,314.4 Q421.20000000000005,314.4 421.20000000000005,317.6 L421.20000000000005,319.7 Q421.20000000000005,322.9 417.8,322.9 Q421.20000000000005,322.9 421.20000000000005,326.1 L421.20000000000005,328.2 Q421.20000000000005,331.4 424.6,331.4" fill="none" stroke="#3e5fb8" stroke-width="1.1" stroke-linecap="round"/>
<line x1="431" y1="289" x2="566.7" y2="289" stroke="#4862a8" stroke-width="1.3"/>
<text x="434.7" y="282.8" font-size="7.0" textLength="127.5" lengthAdjust="spacingAndGlyphs">图形清晰呈现数的排列、组合或变化规律</text>
<line x1="431" y1="310.5" x2="581" y2="310.5" stroke="#4862a8" stroke-width="1.3"/>
<text x="434.7" y="304.3" font-size="7.0" textLength="141.8" lengthAdjust="spacingAndGlyphs">数字精准描述图形的个数、大小、层数等特征</text>
<line x1="431" y1="331.4" x2="597.7" y2="331.4" stroke="#4862a8" stroke-width="1.3"/>
<text x="434.7" y="325.2" font-size="7.0" textLength="158.5" lengthAdjust="spacingAndGlyphs">同一规律可通过“数”和“形”两种形式表达，相互验证</text>
<rect x="198.2" y="437.5" width="107.6" height="19.4" rx="3.5" fill="#f2c94c"/>
<text class="bt" x="206.2" y="450.5" font-size="9.1" textLength="91.0" lengthAdjust="spacingAndGlyphs">图形中的数字规律探究</text>
<path d="M320,409.9 Q316.25,409.9 316.25,413.1 L316.25,444.0 Q316.25,447.2 312.5,447.2 Q316.25,447.2 316.25,450.4 L316.25,481.0 Q316.25,484.2 320,484.2" fill="none" stroke="#3e5fb8" stroke-width="1.1" stroke-linecap="round"/>
<line x1="326.4" y1="418.4" x2="391.1" y2="418.4" stroke="#4862a8" stroke-width="1.3"/>
<text x="330.1" y="412.2" font-size="7.0" textLength="56.5" lengthAdjust="spacingAndGlyphs">常见图形规律类型</text>
<line x1="326.4" y1="492.7" x2="376.7" y2="492.7" stroke="#4862a8" stroke-width="1.3"/>
<text x="330.1" y="486.5" font-size="7.0" textLength="42.1" lengthAdjust="spacingAndGlyphs">规律探究步骤</text>
<path d="M403.7,377.5 Q400.35,377.5 400.35,380.7 L400.35,406.7 Q400.35,409.9 397,409.9 Q400.35,409.9 400.35,413.1 L400.35,438.3 Q400.35,441.5 403.7,441.5" fill="none" stroke="#3e5fb8" stroke-width="1.1" stroke-linecap="round"/>
<path d="M390,462.8 Q386.5,462.8 386.5,466.0 L386.5,481.0 Q386.5,484.2 383,484.2 Q386.5,484.2 386.5,487.4 L386.5,502.5 Q386.5,505.7 390,505.7" fill="none" stroke="#3e5fb8" stroke-width="1.1" stroke-linecap="round"/>
<line x1="410.8" y1="386" x2="453.6" y2="386" stroke="#4862a8" stroke-width="1.3"/>
<text x="414.5" y="379.8" font-size="7.0" textLength="34.6" lengthAdjust="spacingAndGlyphs">正方形点阵</text>
<line x1="410.8" y1="407.1" x2="453.6" y2="407.1" stroke="#4862a8" stroke-width="1.3"/>
<text x="414.5" y="400.9" font-size="7.0" textLength="34.6" lengthAdjust="spacingAndGlyphs">三角形点阵</text>
<line x1="410.8" y1="428.5" x2="470" y2="428.5" stroke="#4862a8" stroke-width="1.3"/>
<text x="414.5" y="422.3" font-size="7.0" textLength="51.0" lengthAdjust="spacingAndGlyphs">递进式线段/图形</text>
<line x1="410.8" y1="450" x2="461" y2="450" stroke="#4862a8" stroke-width="1.3"/>
<text x="414.5" y="443.8" font-size="7.0" textLength="42.0" lengthAdjust="spacingAndGlyphs">分数拆分图形</text>
<line x1="396.4" y1="471.3" x2="418.8" y2="471.3" stroke="#4862a8" stroke-width="1.3"/>
<text x="400.1" y="465.1" font-size="7.0" textLength="14.2" lengthAdjust="spacingAndGlyphs">观察</text>
<line x1="396.4" y1="492.7" x2="418.8" y2="492.7" stroke="#4862a8" stroke-width="1.3"/>
<text x="400.1" y="486.5" font-size="7.0" textLength="14.2" lengthAdjust="spacingAndGlyphs">归纳</text>
<line x1="396.4" y1="514.2" x2="418.8" y2="514.2" stroke="#4862a8" stroke-width="1.3"/>
<text x="400.1" y="508.0" font-size="7.0" textLength="14.2" lengthAdjust="spacingAndGlyphs">验证</text>
<path d="M467.4,369.0 Q464.0,369.0 464.0,372.2 L464.0,374.3 Q464.0,377.5 460.6,377.5 Q464.0,377.5 464.0,380.7 L464.0,382.8 Q464.0,386.0 467.4,386.0" fill="none" stroke="#3e5fb8" stroke-width="1.1" stroke-linecap="round"/>
<path d="M467.4,390.1 Q464.0,390.1 464.0,393.3 L464.0,395.4 Q464.0,398.6 460.6,398.6 Q464.0,398.6 464.0,401.8 L464.0,403.9 Q464.0,407.1 467.4,407.1" fill="none" stroke="#3e5fb8" stroke-width="1.1" stroke-linecap="round"/>
<path d="M483.8,411.5 Q480.65,411.5 480.65,414.7 L480.65,416.8 Q480.65,420.0 477.5,420.0 Q480.65,420.0 480.65,423.2 L480.65,425.3 Q480.65,428.5 483.8,428.5" fill="none" stroke="#3e5fb8" stroke-width="1.1" stroke-linecap="round"/>
<path d="M475,433.0 Q471.6,433.0 471.6,436.2 L471.6,438.3 Q471.6,441.5 468.2,441.5 Q471.6,441.5 471.6,444.7 L471.6,446.8 Q471.6,450.0 475,450.0" fill="none" stroke="#3e5fb8" stroke-width="1.1" stroke-linecap="round"/>
<path d="M431.4,454.3 Q428.0,454.3 428.0,457.5 L428.0,459.6 Q428.0,462.8 424.6,462.8 Q428.0,462.8 428.0,466.0 L428.0,468.1 Q428.0,471.3 431.4,471.3" fill="none" stroke="#3e5fb8" stroke-width="1.1" stroke-linecap="round"/>
<path d="M431.4,475.7 Q428.0,475.7 428.0,478.9 L428.0,481.0 Q428.0,484.2 424.6,484.2 Q428.0,484.2 428.0,487.4 L428.0,489.5 Q428.0,492.7 431.4,492.7" fill="none" stroke="#3e5fb8" stroke-width="1.1" stroke-linecap="round"/>
<path d="M431.4,497.2 Q428.0,497.2 428.0,500.4 L428.0,502.5 Q428.0,505.7 424.6,505.7 Q428.0,505.7 428.0,508.9 L428.0,511.0 Q428.0,514.2 431.4,514.2" fill="none" stroke="#3e5fb8" stroke-width="1.1" stroke-linecap="round"/>
<line x1="473.7" y1="386" x2="646.9" y2="386" stroke="#4862a8" stroke-width="1.3"/>
<text x="477.4" y="379.8" font-size="7.0" textLength="165.0" lengthAdjust="spacingAndGlyphs">点数 = 边长的平方，第 n 个图形边长为 n，点数为 n²</text>
<line x1="473.7" y1="407.1" x2="638.5" y2="407.1" stroke="#4862a8" stroke-width="1.3"/>
<text x="477.4" y="400.9" font-size="7.0" textLength="156.6" lengthAdjust="spacingAndGlyphs">点数 = 1+2+3+…+n，第 n 个图形点数为 n (n+1)/2</text>
<line x1="490" y1="428.5" x2="668" y2="428.5" stroke="#4862a8" stroke-width="1.3"/>
<text x="493.7" y="422.3" font-size="7.0" textLength="169.8" lengthAdjust="spacingAndGlyphs">后一个图形比前一个多固定数量的元素，形成等差数列</text>
<line x1="480.8" y1="450" x2="621.7" y2="450" stroke="#4862a8" stroke-width="1.3"/>
<text x="484.5" y="443.8" font-size="7.0" textLength="132.7" lengthAdjust="spacingAndGlyphs">用图形分割表示分数求和，体现“极限”思想</text>
<line x1="438.5" y1="471.3" x2="574.8" y2="471.3" stroke="#4862a8" stroke-width="1.3"/>
<text x="442.2" y="465.1" font-size="7.0" textLength="128.1" lengthAdjust="spacingAndGlyphs">对比前 3-4 个图形，找出元素的变化规律</text>
<line x1="438.5" y1="492.7" x2="603.3" y2="492.7" stroke="#4862a8" stroke-width="1.3"/>
<text x="442.2" y="486.5" font-size="7.0" textLength="156.6" lengthAdjust="spacingAndGlyphs">用数字表示变化规律，总结出第 n 个图形的表达式</text>
<line x1="438.5" y1="514.2" x2="589.4" y2="514.2" stroke="#4862a8" stroke-width="1.3"/>
<text x="442.2" y="508.0" font-size="7.0" textLength="142.7" lengthAdjust="spacingAndGlyphs">用第 5 个图形的实际数量验证表达式是否成立</text>
<rect x="198.2" y="582.3" width="107.6" height="19.3" rx="3.5" fill="#f2c94c"/>
<text class="bt" x="206.2" y="595.2" font-size="9.1" textLength="91.0" lengthAdjust="spacingAndGlyphs">数与形结合的计算应用</text>
<path d="M320,549.8 Q316.25,549.8 316.25,553.0 L316.25,588.8 Q316.25,592.0 312.5,592.0 Q316.25,592.0 316.25,595.2 L316.25,631.7 Q316.25,634.9 320,634.9" fill="none" stroke="#3e5fb8" stroke-width="1.1" stroke-linecap="round"/>
<line x1="326.4" y1="558.3" x2="376.7" y2="558.3" stroke="#4862a8" stroke-width="1.3"/>
<text x="330.1" y="552.1" font-size="7.0" textLength="42.1" lengthAdjust="spacingAndGlyphs">等差数列求和</text>
<line x1="326.4" y1="600.6" x2="405.2" y2="600.6" stroke="#4862a8" stroke-width="1.3"/>
<text x="330.1" y="594.4" font-size="7.0" textLength="70.6" lengthAdjust="spacingAndGlyphs">分数求和（极限思想）</text>
<line x1="326.4" y1="643.4" x2="383.8" y2="643.4" stroke="#4862a8" stroke-width="1.3"/>
<text x="330.1" y="637.2" font-size="7.0" textLength="49.2" lengthAdjust="spacingAndGlyphs">平方数相关计算</text>
<path d="M390,539.2 Q386.5,539.2 386.5,542.4 L386.5,546.6 Q386.5,549.8 383,549.8 Q386.5,549.8 386.5,553.0 L386.5,556.9 Q386.5,560.1 390,560.1" fill="none" stroke="#3e5fb8" stroke-width="1.1" stroke-linecap="round"/>
<path d="M418.3,582.0 Q414.8,582.0 414.8,585.2 L414.8,588.9 Q414.8,592.1 411.3,592.1 Q414.8,592.1 414.8,595.3 L414.8,599.5 Q414.8,602.7 418.3,602.7" fill="none" stroke="#3e5fb8" stroke-width="1.1" stroke-linecap="round"/>
<path d="M397.4,624.3 Q394.0,624.3 394.0,627.5 L394.0,631.7 Q394.0,634.9 390.6,634.9 Q394.0,634.9 394.0,638.1 L394.0,642.3 Q394.0,645.5 397.4,645.5" fill="none" stroke="#3e5fb8" stroke-width="1.1" stroke-linecap="round"/>
<line x1="396.4" y1="547.7" x2="432.7" y2="547.7" stroke="#4862a8" stroke-width="1.3"/>
<text x="400.1" y="541.5" font-size="7.0" textLength="28.1" lengthAdjust="spacingAndGlyphs">规律应用</text>
<line x1="396.4" y1="568.6" x2="432.7" y2="568.6" stroke="#4862a8" stroke-width="1.3"/>
<text x="400.1" y="562.4" font-size="7.0" textLength="28.1" lengthAdjust="spacingAndGlyphs">示例演示</text>
<line x1="425.4" y1="590.5" x2="460.4" y2="590.5" stroke="#4862a8" stroke-width="1.3"/>
<text x="429.1" y="584.3" font-size="7.0" textLength="26.8" lengthAdjust="spacingAndGlyphs">规律应用</text>
<line x1="425.4" y1="611.2" x2="460.4" y2="611.2" stroke="#4862a8" stroke-width="1.3"/>
<text x="429.1" y="605.0" font-size="7.0" textLength="26.8" lengthAdjust="spacingAndGlyphs">拓展应用</text>
<line x1="403.7" y1="632.8" x2="439.5" y2="632.8" stroke="#4862a8" stroke-width="1.3"/>
<text x="407.4" y="626.6" font-size="7.0" textLength="27.6" lengthAdjust="spacingAndGlyphs">规律应用</text>
<line x1="403.7" y1="654" x2="439.5" y2="654" stroke="#4862a8" stroke-width="1.3"/>
<text x="407.4" y="647.8" font-size="7.0" textLength="27.6" lengthAdjust="spacingAndGlyphs">示例演示</text>
<path d="M446,530.7 Q442.5,530.7 442.5,533.9 L442.5,536.0 Q442.5,539.2 439,539.2 Q442.5,539.2 442.5,542.4 L442.5,544.5 Q442.5,547.7 446,547.7" fill="none" stroke="#3e5fb8" stroke-width="1.1" stroke-linecap="round"/>
<path d="M446,551.6 Q442.5,551.6 442.5,554.8 L442.5,556.9 Q442.5,560.1 439,560.1 Q442.5,560.1 442.5,563.3 L442.5,565.4 Q442.5,568.6 446,568.6" fill="none" stroke="#3e5fb8" stroke-width="1.1" stroke-linecap="round"/>
<path d="M474.2,573.5 Q470.79999999999995,573.5 470.79999999999995,576.7 L470.79999999999995,578.8 Q470.79999999999995,582.0 467.4,582.0 Q470.79999999999995,582.0 470.79999999999995,585.2 L470.79999999999995,587.3 Q470.79999999999995,590.5 474.2,590.5" fill="none" stroke="#3e5fb8" stroke-width="1.1" stroke-linecap="round"/>
<path d="M474.2,594.2 Q470.79999999999995,594.2 470.79999999999995,597.4 L470.79999999999995,599.5 Q470.79999999999995,602.7 467.4,602.7 Q470.79999999999995,602.7 470.79999999999995,605.9 L470.79999999999995,608.0 Q470.79999999999995,611.2 474.2,611.2" fill="none" stroke="#3e5fb8" stroke-width="1.1" stroke-linecap="round"/>
<path d="M452.8,615.8 Q449.4,615.8 449.4,619.0 L449.4,621.1 Q449.4,624.3 446,624.3 Q449.4,624.3 449.4,627.5 L449.4,629.6 Q449.4,632.8 452.8,632.8" fill="none" stroke="#3e5fb8" stroke-width="1.1" stroke-linecap="round"/>
<path d="M452.8,637.0 Q449.4,637.0 449.4,640.2 L449.4,642.3 Q449.4,645.5 446,645.5 Q449.4,645.5 449.4,648.7 L449.4,650.8 Q449.4,654.0 452.8,654.0" fill="none" stroke="#3e5fb8" stroke-width="1.1" stroke-linecap="round"/>
<line x1="452.3" y1="547.7" x2="686.9" y2="547.7" stroke="#4862a8" stroke-width="1.3"/>
<text x="456.0" y="541.5" font-size="7.0" textLength="226.4" lengthAdjust="spacingAndGlyphs">利用正方形点阵拼摆解释等差数列求和规律，奇数个点可组成边长为n的正方形</text>
<line x1="452.3" y1="568.6" x2="646.9" y2="568.6" stroke="#4862a8" stroke-width="1.3"/>
<text x="456.0" y="562.4" font-size="7.0" textLength="186.4" lengthAdjust="spacingAndGlyphs">通过具体例子1+3+5+7+9=5²=25，展示等差数列求和规律的应用</text>
<line x1="480.8" y1="590.5" x2="651" y2="590.5" stroke="#4862a8" stroke-width="1.3"/>
<text x="484.5" y="584.3" font-size="7.0" textLength="162.0" lengthAdjust="spacingAndGlyphs">通过图形分割解释分数求和规律，无限接近整个图形面积</text>
<line x1="480.8" y1="611.2" x2="676.3" y2="611.2" stroke="#4862a8" stroke-width="1.3"/>
<text x="484.5" y="605.0" font-size="7.0" textLength="187.3" lengthAdjust="spacingAndGlyphs">线段或三角形分割，无限接近整体的1/2，如1/3+1/9+1/27+…=1/2</text>
<line x1="459.1" y1="632.8" x2="618.9" y2="632.8" stroke="#4862a8" stroke-width="1.3"/>
<text x="462.8" y="626.6" font-size="7.0" textLength="151.6" lengthAdjust="spacingAndGlyphs">两个相邻平方数的差为奇数，对应图形中增加的点数</text>
<line x1="459.1" y1="654" x2="648.1" y2="654" stroke="#4862a8" stroke-width="1.3"/>
<text x="462.8" y="647.8" font-size="7.0" textLength="180.8" lengthAdjust="spacingAndGlyphs">通过例子5²-4²=25-16=9=2×5-1，展示相邻平方数差的计算方法</text>
<rect x="198.2" y="711.8" width="117.0" height="19.6" rx="3.5" fill="#f2c94c"/>
<text class="bt" x="206.2" y="724.9" font-size="9.1" textLength="100.1" lengthAdjust="spacingAndGlyphs">数与形结合解决实际问题</text>
<path d="M328.4,699.9 Q325.0,699.9 325.0,703.1 L325.0,718.4 Q325.0,721.6 321.6,721.6 Q325.0,721.6 325.0,724.8 L325.0,739.5 Q325.0,742.7 328.4,742.7" fill="none" stroke="#3e5fb8" stroke-width="1.1" stroke-linecap="round"/>
<line x1="335.9" y1="708.4" x2="371.2" y2="708.4" stroke="#4862a8" stroke-width="1.3"/>
<text x="339.6" y="702.2" font-size="7.0" textLength="27.1" lengthAdjust="spacingAndGlyphs">常见场景</text>
<line x1="335.9" y1="751.2" x2="371.2" y2="751.2" stroke="#4862a8" stroke-width="1.3"/>
<text x="339.6" y="745.0" font-size="7.0" textLength="27.1" lengthAdjust="spacingAndGlyphs">解题关键</text>
<path d="M384.5,678.7 Q381.35,678.7 381.35,681.9 L381.35,696.7 Q381.35,699.9 378.2,699.9 Q381.35,699.9 381.35,703.1 L381.35,718.3 Q381.35,721.5 384.5,721.5" fill="none" stroke="#3e5fb8" stroke-width="1.1" stroke-linecap="round"/>
<path d="M384.5,734.2 Q381.35,734.2 381.35,737.4 L381.35,739.5 Q381.35,742.7 378.2,742.7 Q381.35,742.7 381.35,745.9 L381.35,748.0 Q381.35,751.2 384.5,751.2" fill="none" stroke="#3e5fb8" stroke-width="1.1" stroke-linecap="round"/>
<line x1="391.6" y1="687.2" x2="427.4" y2="687.2" stroke="#4862a8" stroke-width="1.3"/>
<text x="395.3" y="681.0" font-size="7.0" textLength="27.6" lengthAdjust="spacingAndGlyphs">鸡兔同笼</text>
<line x1="391.6" y1="708.6" x2="427.4" y2="708.6" stroke="#4862a8" stroke-width="1.3"/>
<text x="395.3" y="702.4" font-size="7.0" textLength="27.6" lengthAdjust="spacingAndGlyphs">行程问题</text>
<line x1="391.6" y1="730" x2="441.2" y2="730" stroke="#4862a8" stroke-width="1.3"/>
<text x="395.3" y="723.8" font-size="7.0" textLength="41.4" lengthAdjust="spacingAndGlyphs">几何图形计算</text>
<line x1="391.6" y1="751.2" x2="576.7" y2="751.2" stroke="#4862a8" stroke-width="1.3"/>
<text x="395.3" y="745.0" font-size="7.0" textLength="176.9" lengthAdjust="spacingAndGlyphs">将实际问题转化为数的规律或形的模型，再结合规律求解</text>
<path d="M440.7,670.2 Q437.45,670.2 437.45,673.4 L437.45,675.5 Q437.45,678.7 434.2,678.7 Q437.45,678.7 437.45,681.9 L437.45,684.0 Q437.45,687.2 440.7,687.2" fill="none" stroke="#3e5fb8" stroke-width="1.1" stroke-linecap="round"/>
<path d="M440.7,691.6 Q437.45,691.6 437.45,694.8 L437.45,696.9 Q437.45,700.1 434.2,700.1 Q437.45,700.1 437.45,703.3 L437.45,705.4 Q437.45,708.6 440.7,708.6" fill="none" stroke="#3e5fb8" stroke-width="1.1" stroke-linecap="round"/>
<path d="M455,713.0 Q451.65,713.0 451.65,716.2 L451.65,718.3 Q451.65,721.5 448.3,721.5 Q451.65,721.5 451.65,724.7 L451.65,726.8 Q451.65,730.0 455,730.0" fill="none" stroke="#3e5fb8" stroke-width="1.1" stroke-linecap="round"/>
<line x1="446.4" y1="687.2" x2="568.5" y2="687.2" stroke="#4862a8" stroke-width="1.3"/>
<text x="450.1" y="681.0" font-size="7.0" textLength="113.9" lengthAdjust="spacingAndGlyphs">利用图形直观辅助计算头和脚的数量</text>
<line x1="446.4" y1="708.6" x2="575.7" y2="708.6" stroke="#4862a8" stroke-width="1.3"/>
<text x="450.1" y="702.4" font-size="7.0" textLength="121.1" lengthAdjust="spacingAndGlyphs">用线段图表示路程、速度、时间的关系</text>
<line x1="461" y1="730" x2="658.5" y2="730" stroke="#4862a8" stroke-width="1.3"/>
<text x="464.7" y="723.8" font-size="7.0" textLength="189.3" lengthAdjust="spacingAndGlyphs">利用数字规律推导复杂图形的面积，如“杨辉三角”与组合图形</text>
<rect x="198" y="777.5" width="90.0" height="19.0" rx="3.5" fill="#f2c94c"/>
<text class="bt" x="206.0" y="790.3" font-size="9.1" textLength="72.8" lengthAdjust="spacingAndGlyphs">规律的验证与推广</text>
<path d="M302.2,778.4 Q298.9,778.4 298.9,781.6 L298.9,783.8 Q298.9,787.0 295.6,787.0 Q298.9,787.0 298.9,790.2 L298.9,792.8 Q298.9,796.0 302.2,796.0" fill="none" stroke="#3e5fb8" stroke-width="1.1" stroke-linecap="round"/>
<line x1="308.2" y1="795.5" x2="365.6" y2="795.5" stroke="#4862a8" stroke-width="1.3"/>
<text x="311.9" y="789.3" font-size="7.0" textLength="49.2" lengthAdjust="spacingAndGlyphs">规律归纳与证明</text>
<path d="M378.7,776.2 Q375.35,776.2 375.35,779.4 L375.35,783.8 Q375.35,787.0 372,787.0 Q375.35,787.0 375.35,790.2 L375.35,794.3 Q375.35,797.5 378.7,797.5" fill="none" stroke="#3e5fb8" stroke-width="1.1" stroke-linecap="round"/>
<line x1="385.8" y1="784.7" x2="421.6" y2="784.7" stroke="#4862a8" stroke-width="1.3"/>
<text x="389.5" y="778.5" font-size="7.0" textLength="27.6" lengthAdjust="spacingAndGlyphs">形的证明</text>
<line x1="385.8" y1="806" x2="421.6" y2="806" stroke="#4862a8" stroke-width="1.3"/>
<text x="389.5" y="799.8" font-size="7.0" textLength="27.6" lengthAdjust="spacingAndGlyphs">数的证明</text>
<path d="M434.9,767.7 Q431.75,767.7 431.75,770.9 L431.75,773.0 Q431.75,776.2 428.6,776.2 Q431.75,776.2 431.75,779.4 L431.75,781.5 Q431.75,784.7 434.9,784.7" fill="none" stroke="#3e5fb8" stroke-width="1.1" stroke-linecap="round"/>
<path d="M434.9,789.0 Q431.75,789.0 431.75,792.2 L431.75,794.3 Q431.75,797.5 428.6,797.5 Q431.75,797.5 431.75,800.7 L431.75,802.8 Q431.75,806.0 434.9,806.0" fill="none" stroke="#3e5fb8" stroke-width="1.1" stroke-linecap="round"/>
<line x1="441.2" y1="784.7" x2="611.7" y2="784.7" stroke="#4862a8" stroke-width="1.3"/>
<text x="444.9" y="778.5" font-size="7.0" textLength="162.3" lengthAdjust="spacingAndGlyphs">通过构建正方形图形，展示奇数序列与平方数的关系</text>
<line x1="441.2" y1="806" x2="626.5" y2="806" stroke="#4862a8" stroke-width="1.3"/>
<text x="444.9" y="799.8" font-size="7.0" textLength="177.1" lengthAdjust="spacingAndGlyphs">利用等差数列求和公式，推导出奇数序列和的数学表达式</text>
</svg>
<div class="abs tt" style="left:277px;">期末复习专题</div><div class="abs tt" style="left:410.5px;font-size:21px;letter-spacing:-1.8px;">08</div><div class="abs tt" style="left:432.7px;">：数与形</div>
<div class="abs bigt" style="left:339px;top:181.5px;">思维导图</div>
<div class="abs bigt" style="left:338px;top:833.5px;">考点清单</div>
<div class="abs h1" style="left:72.8px;letter-spacing:1.67px;">考点一：数与形结合的核心思想（基础考点）</div>
<span class="bs" style="left:72.2px;top:935.7px;letter-spacing:-0.7px;font-weight:700;">核心意义：</span>
<span class="bs" style="left:151.7px;top:935.7px;letter-spacing:0px;font-family:"Liberation Serif",serif;">“</span>
<span class="bs" style="left:160.8px;top:935.7px;letter-spacing:0px;">数</span>
<span class="bs" style="left:179px;top:935.7px;letter-spacing:0px;font-family:"Liberation Serif",serif;">”</span>
<span class="bs" style="left:201.5px;top:935.7px;letter-spacing:0px;">与</span>
<span class="bs" style="left:231.8px;top:935.7px;letter-spacing:0px;font-family:"Liberation Serif",serif;">“</span>
<span class="bs" style="left:240.9px;top:935.7px;letter-spacing:0px;">形</span>
<span class="bs" style="left:259px;top:935.7px;letter-spacing:0px;font-family:"Liberation Serif",serif;">”</span>
<span class="bs" style="left:281px;top:935.7px;letter-spacing:-0.1px;">是数学的两大基本元素，通过</span>
<span class="bs" style="left:504px;top:935.7px;letter-spacing:0px;font-family:"Liberation Serif",serif;">“</span>
<span class="bs" style="left:513.7px;top:935.7px;letter-spacing:-0.3px;">以形助数</span>
<span class="bs" style="left:578.5px;top:935.7px;letter-spacing:0px;font-family:"Liberation Serif",serif;">”</span>
<span class="bs" style="left:594.7px;top:935.7px;letter-spacing:-0.24px;">（用图形直观表达</span>
<span class="bs" style="left:71.6px;top:966.6px;letter-spacing:-0.1px;">数的规律）或</span>
<span class="bs" style="left:185px;top:966.6px;letter-spacing:0px;font-family:"Liberation Serif",serif;">“</span>
<span class="bs" style="left:194px;top:966.6px;letter-spacing:-0.3px;">以数解形</span>
<span class="bs" style="left:259px;top:966.6px;letter-spacing:0px;font-family:"Liberation Serif",serif;">”</span>
<span class="bs" style="left:272.4px;top:966.6px;letter-spacing:-0.2px;">（用数字量化图形的特征）</span>
<span class="bs" style="left:465.5px;top:966.6px;letter-spacing:0px;">，</span>
<span class="bs" style="left:482.6px;top:966.6px;letter-spacing:-0.4px;">将抽象的数字规律或复杂图形转化</span>
<span class="bs" style="left:71.6px;top:998.2px;letter-spacing:-0.1px;">为直观、易理解的形式。</span>
</body></html>
